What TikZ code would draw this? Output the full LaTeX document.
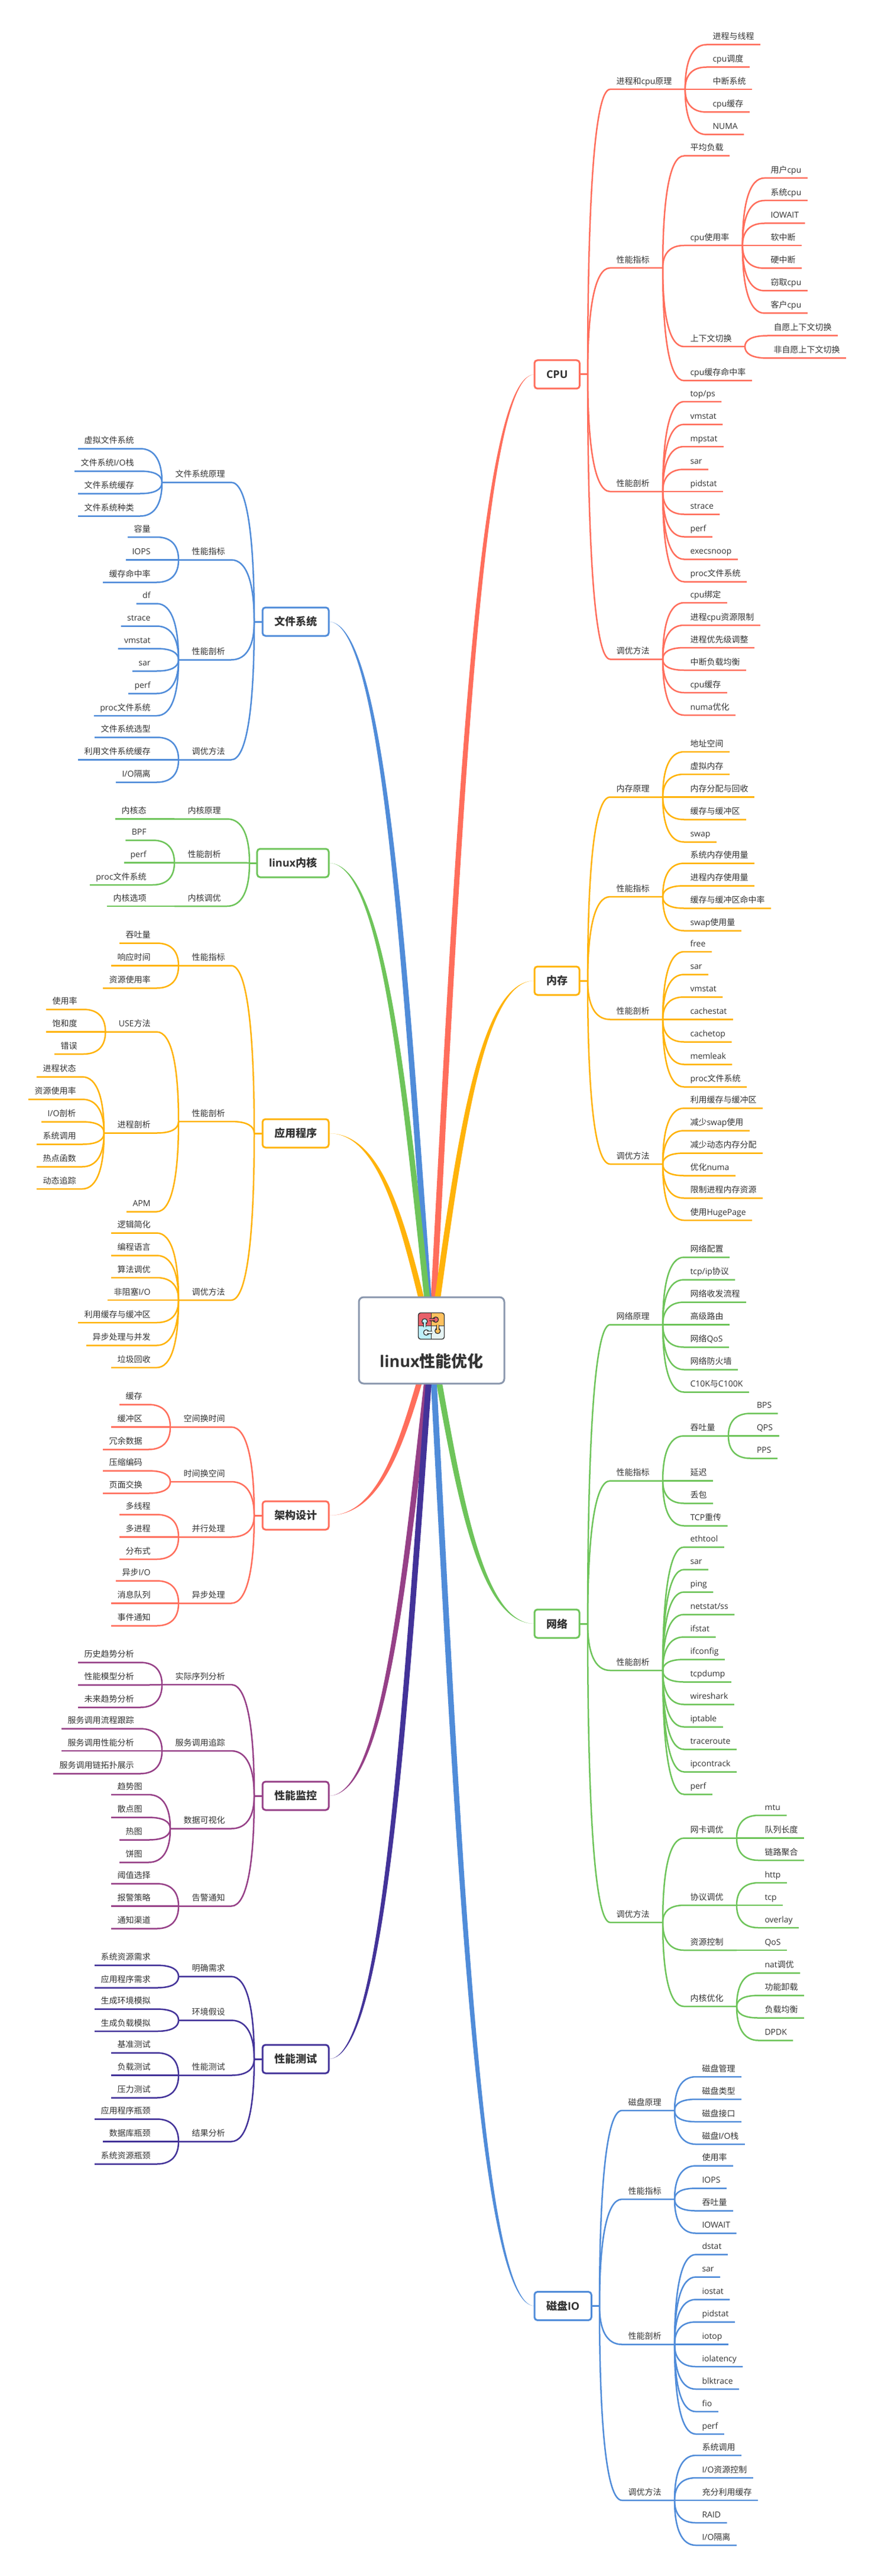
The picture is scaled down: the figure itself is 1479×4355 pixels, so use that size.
\documentclass[tikz,border=0pt]{standalone}
\usepackage{fontspec}
\usetikzlibrary{calc,backgrounds}
\setmainfont{Open Sans}
\newfontfamily\cjkfont{Noto Sans CJK SC}
\newXeTeXintercharclass\cjkclass
\count255="4E00
\loop
\XeTeXcharclass\count255=\cjkclass
\ifnum\count255<"9FFF \advance\count255 by 1 \repeat
\XeTeXinterchartoks 0 \cjkclass={\cjkfont}
\XeTeXinterchartoks 4095 \cjkclass={\cjkfont}
\XeTeXinterchartoks \cjkclass 0={\rmfamily}
\XeTeXinterchartokenstate=1
\definecolor{cpured}{HTML}{FF6E5C}
\definecolor{memorange}{HTML}{FFB30A}
\definecolor{netgreen}{HTML}{6EC45A}
\definecolor{diskblue}{HTML}{508CD9}
\definecolor{monpurple}{HTML}{964087}
\definecolor{testindigo}{HTML}{433399}
\definecolor{rootgrey}{HTML}{8A97AD}
\definecolor{textdark}{HTML}{333333}
\definecolor{piecered}{HTML}{E8606A}
\definecolor{pieceorange}{HTML}{FFC15E}
\definecolor{piececyan}{HTML}{BDF0FA}
\definecolor{piecepale}{HTML}{E6F4F4}
\tikzset{
  twig/.style={inner xsep=5.25pt,inner ysep=4.3pt,outer sep=0pt,text depth=0pt,text=textdark,font=\fontsize{7}{8}\selectfont},
  forkR/.style={execute at end node={\hspace{6pt}}},
  forkL/.style={execute at begin node={\hspace{6pt}}},
  topic/.style={rounded corners=2.5pt,line width=1.5pt,fill=white,outer sep=0pt,inner xsep=10pt,minimum height=24pt,text=textdark,font=\bfseries\fontsize{9}{10}\selectfont},
  twigcurve/.style={to path={let \p1=(\tikztostart),\p2=(\tikztotarget) in
    .. controls (\x1,{\y1+0.6*(\y2-\y1)}) and ({\x1+0.3*(\x2-\x1)},\y2) .. (\tikztotarget)}},
}
\newcommand{\twigR}[6][]{%
  \node[twig,anchor=south west,#1] (#3) at (#4,#5) {#6};
  \draw[branch] (#2) to[twigcurve] (#3.south west) -- (#3.south east);
}
\newcommand{\twigL}[6][]{%
  \node[twig,anchor=south east,#1] (#3) at (#4,#5) {#6};
  \draw[branch] (#2) to[twigcurve] (#3.south east) -- (#3.south west);
}
\newcommand{\trunk}[2]{%
  \begin{pgfonlayer}{background}
  \fill[#1] let \p1=(root.center),\p2=(#2) in
    ({\x1-2.5pt},\y1) .. controls ({\x1-2.5pt+0.25*(\x2-\x1)},{\y1+0.5*(\y2-\y1)}) and ({\x1-1.8pt+0.45*(\x2-\x1)},\y2) .. (\x2,\y2)
    .. controls ({\x1+1.8pt+0.45*(\x2-\x1)},\y2) and ({\x1+2.5pt+0.25*(\x2-\x1)},{\y1+0.5*(\y2-\y1)}) .. ({\x1+2.5pt},\y1) -- cycle;
  \end{pgfonlayer}
}
\begin{document}
\begin{tikzpicture}[x=0.5pt,y=-0.5pt,line join=round]
\useasboundingbox (0,0) rectangle (1479,4355);
\node[draw=rootgrey,fill=white,line width=1.5pt,rounded corners=4pt,outer sep=0pt,minimum width=123pt,minimum height=73pt] (root) at (730,2266) {};
\node[inner sep=0pt,text=textdark,font=\bfseries\fontsize{13.5}{15}\selectfont] (roottitle) at (730,2301) {linux性能优化};

\begin{scope}[line width=0.65pt,draw=textdark]
\begin{scope}
\clip[rounded corners=2pt] (707.5,2219.5) rectangle (751.5,2264);
\fill[piecered] (707,2219) rectangle (729.3,2241.7);
\fill[pieceorange] (729.3,2219) rectangle (752,2241.7);
\fill[piececyan] (707,2241.7) rectangle (729.3,2265);
\fill[piecepale] (729.3,2241.7) rectangle (752,2265);
\end{scope}
\draw (729.3,2219.5) -- (729.3,2264) (707.5,2241.7) -- (751.5,2241.7);
\filldraw[fill=piecered] (727,2229) rectangle (735,2233) (737,2231) circle (2.3pt);
\fill[piecered] (726,2229.6) rectangle (738,2232.4);
\filldraw[fill=piececyan] (716.3,2243) rectangle (720.3,2236) (718.3,2234) circle (2.3pt);
\fill[piececyan] (716.9,2244) rectangle (719.7,2233);
\filldraw[fill=pieceorange] (738.3,2240.5) rectangle (742.3,2248) (740.3,2250) circle (2.3pt);
\fill[pieceorange] (738.9,2240) rectangle (741.7,2251);
\filldraw[fill=piecepale] (730.5,2250.7) rectangle (723,2254.7) (721,2252.7) circle (2.3pt);
\fill[piecepale] (731,2251.3) rectangle (720,2254.1);
\draw[rounded corners=2pt,line width=0.7pt] (707.5,2219.5) rectangle (751.5,2264);
\end{scope}

\node[topic,draw=cpured,anchor=west] (cpu) at (904,633) {CPU};
\node[topic,draw=memorange,anchor=west] (mem) at (904,1658) {内存};
\node[topic,draw=netgreen,anchor=west] (net) at (904,2745) {网络};
\node[topic,draw=diskblue,anchor=west] (disk) at (904,3898.5) {磁盘IO};
\node[topic,draw=diskblue,anchor=east] (fs) at (556,1051) {文件系统};
\node[topic,draw=netgreen,anchor=east] (kern) at (556,1459) {linux内核};
\node[topic,draw=memorange,anchor=east] (app) at (556,1916) {应用程序};
\node[topic,draw=cpured,anchor=east] (arch) at (556,2562) {架构设计};
\node[topic,draw=monpurple,anchor=east] (mon) at (556,3036) {性能监控};
\node[topic,draw=testindigo,anchor=east] (test) at (556,3481) {性能测试};

\trunk{cpured}{cpu.west}
\trunk{memorange}{mem.west}
\trunk{netgreen}{net.west}
\trunk{diskblue}{disk.west}
\trunk{diskblue}{fs.east}
\trunk{netgreen}{kern.east}
\trunk{memorange}{app.east}
\trunk{cpured}{arch.east}
\trunk{monpurple}{mon.east}
\trunk{testindigo}{test.east}

\coordinate (cpuhub) at (994,633);
\coordinate (memhub) at (994,1658);
\coordinate (nethub) at (994,2745);
\coordinate (diskhub) at (1014,3898.5);
\coordinate (fshub) at (430,1051);
\coordinate (kernhub) at (422,1459);
\coordinate (apphub) at (430,1916);
\coordinate (archhub) at (430,2562);
\coordinate (monhub) at (430,3036);
\coordinate (testhub) at (430,3481);

\begin{scope}[branch/.style={draw=cpured,line width=1.25pt}]
\draw[branch,line width=1.5pt] (cpu.east) -- (cpuhub);
\twigR[forkR]{cpuhub}{cpua}{1032}{151}{进程和cpu原理}
\twigR{cpua.south east}{cpua1}{1195}{75.5}{进程与线程}
\twigR{cpua.south east}{cpua2}{1195}{113.5}{cpu调度}
\twigR{cpua.south east}{cpua3}{1195}{151}{中断系统}
\twigR{cpua.south east}{cpua4}{1195}{189.5}{cpu缓存}
\twigR{cpua.south east}{cpua5}{1195}{227.5}{NUMA}
\twigR[forkR]{cpuhub}{cpub}{1032}{453}{性能指标}
\twigR{cpub.south east}{cpub1}{1157}{263.5}{平均负载}
\twigR[forkR]{cpub.south east}{cpub2}{1157}{415}{cpu使用率}
\twigR{cpub2.south east}{cpub21}{1293}{301}{用户cpu}
\twigR{cpub2.south east}{cpub22}{1293}{339}{系统cpu}
\twigR{cpub2.south east}{cpub23}{1293}{377.5}{IOWAIT}
\twigR{cpub2.south east}{cpub24}{1293}{415}{软中断}
\twigR{cpub2.south east}{cpub25}{1293}{453.5}{硬中断}
\twigR{cpub2.south east}{cpub26}{1293}{491.5}{窃取cpu}
\twigR{cpub2.south east}{cpub27}{1293}{529.5}{客户cpu}
\twigR[forkR]{cpub.south east}{cpub3}{1157}{586}{上下文切换}
\twigR{cpub3.south east}{cpub31}{1298}{567.5}{自愿上下文切换}
\twigR{cpub3.south east}{cpub32}{1298}{605.5}{非自愿上下文切换}
\twigR{cpub.south east}{cpub4}{1157}{643.5}{cpu缓存命中率}
\twigR[forkR]{cpuhub}{cpuc}{1032}{831}{性能剖析}
\twigR{cpuc.south east}{cpuc1}{1157}{679}{top/ps}
\twigR{cpuc.south east}{cpuc2}{1157}{717.5}{vmstat}
\twigR{cpuc.south east}{cpuc3}{1157}{755}{mpstat}
\twigR{cpuc.south east}{cpuc4}{1157}{793.5}{sar}
\twigR{cpuc.south east}{cpuc5}{1157}{831}{pidstat}
\twigR{cpuc.south east}{cpuc6}{1157}{869.5}{strace}
\twigR{cpuc.south east}{cpuc7}{1157}{907.5}{perf}
\twigR{cpuc.south east}{cpuc8}{1157}{945.5}{execsnoop}
\twigR{cpuc.south east}{cpuc9}{1157}{983.5}{proc文件系统}
\twigR[forkR]{cpuhub}{cpud}{1032}{1114.5}{调优方法}
\twigR{cpud.south east}{cpud1}{1157}{1019}{cpu绑定}
\twigR{cpud.south east}{cpud2}{1157}{1057}{进程cpu资源限制}
\twigR{cpud.south east}{cpud3}{1157}{1095}{进程优先级调整}
\twigR{cpud.south east}{cpud4}{1157}{1133}{中断负载均衡}
\twigR{cpud.south east}{cpud5}{1157}{1171}{cpu缓存}
\twigR{cpud.south east}{cpud6}{1157}{1209}{numa优化}
\end{scope}

\begin{scope}[branch/.style={draw=memorange,line width=1.25pt}]
\draw[branch,line width=1.5pt] (mem.east) -- (memhub);
\twigR[forkR]{memhub}{mema}{1032}{1347.5}{内存原理}
\twigR{mema.south east}{mema1}{1157}{1271}{地址空间}
\twigR{mema.south east}{mema2}{1157}{1309}{虚拟内存}
\twigR{mema.south east}{mema3}{1157}{1347.5}{内存分配与回收}
\twigR{mema.south east}{mema4}{1157}{1385.5}{缓存与缓冲区}
\twigR{mema.south east}{mema5}{1157}{1423.5}{swap}
\twigR[forkR]{memhub}{memb}{1032}{1516}{性能指标}
\twigR{memb.south east}{memb1}{1157}{1459.5}{系统内存使用量}
\twigR{memb.south east}{memb2}{1157}{1497.5}{进程内存使用量}
\twigR{memb.south east}{memb3}{1157}{1535.5}{缓存与缓冲区命中率}
\twigR{memb.south east}{memb4}{1157}{1573.5}{swap使用量}
\twigR[forkR]{memhub}{memc}{1032}{1723.5}{性能剖析}
\twigR{memc.south east}{memc1}{1157}{1609}{free}
\twigR{memc.south east}{memc2}{1157}{1647.5}{sar}
\twigR{memc.south east}{memc3}{1157}{1685.5}{vmstat}
\twigR{memc.south east}{memc4}{1157}{1723.5}{cachestat}
\twigR{memc.south east}{memc5}{1157}{1761.5}{cachetop}
\twigR{memc.south east}{memc6}{1157}{1799.5}{memleak}
\twigR{memc.south east}{memc7}{1157}{1837.5}{proc文件系统}
\twigR[forkR]{memhub}{memd}{1032}{1968}{调优方法}
\twigR{memd.south east}{memd1}{1157}{1873.5}{利用缓存与缓冲区}
\twigR{memd.south east}{memd2}{1157}{1911.5}{减少swap使用}
\twigR{memd.south east}{memd3}{1157}{1949.5}{减少动态内存分配}
\twigR{memd.south east}{memd4}{1157}{1987.5}{优化numa}
\twigR{memd.south east}{memd5}{1157}{2025.5}{限制进程内存资源}
\twigR{memd.south east}{memd6}{1157}{2063}{使用HugePage}
\end{scope}

\begin{scope}[branch/.style={draw=netgreen,line width=1.25pt}]
\draw[branch,line width=1.5pt] (net.east) -- (nethub);
\twigR[forkR]{nethub}{neta}{1032}{2239.5}{网络原理}
\twigR{neta.south east}{neta1}{1157}{2125.5}{网络配置}
\twigR{neta.south east}{neta2}{1157}{2163.5}{tcp/ip协议}
\twigR{neta.south east}{neta3}{1157}{2201.5}{网络收发流程}
\twigR{neta.south east}{neta4}{1157}{2239.5}{高级路由}
\twigR{neta.south east}{neta5}{1157}{2277.5}{网络QoS}
\twigR{neta.south east}{neta6}{1157}{2315.5}{网络防火墙}
\twigR{neta.south east}{neta7}{1157}{2353.5}{C10K与C100K}
\twigR[forkR]{nethub}{netb}{1032}{2503.5}{性能指标}
\twigR[forkR]{netb.south east}{netb1}{1157}{2427.5}{吞吐量}
\twigR{netb1.south east}{netb11}{1269.5}{2389.5}{BPS}
\twigR{netb1.south east}{netb12}{1269.5}{2427.5}{QPS}
\twigR{netb1.south east}{netb13}{1269.5}{2465.5}{PPS}
\twigR{netb.south east}{netb2}{1157}{2503.5}{延迟}
\twigR{netb.south east}{netb3}{1157}{2541.5}{丢包}
\twigR{netb.south east}{netb4}{1157}{2579.5}{TCP重传}
\twigR[forkR]{nethub}{netc}{1032}{2824}{性能剖析}
\twigR{netc.south east}{netc1}{1157}{2615.5}{ethtool}
\twigR{netc.south east}{netc2}{1157}{2653.5}{sar}
\twigR{netc.south east}{netc3}{1157}{2691.5}{ping}
\twigR{netc.south east}{netc4}{1157}{2729.5}{netstat/ss}
\twigR{netc.south east}{netc5}{1157}{2767.5}{ifstat}
\twigR{netc.south east}{netc6}{1157}{2805.5}{ifconfig}
\twigR{netc.south east}{netc7}{1157}{2843.5}{tcpdump}
\twigR{netc.south east}{netc8}{1157}{2881.5}{wireshark}
\twigR{netc.south east}{netc9}{1157}{2919.5}{iptable}
\twigR{netc.south east}{netc10}{1157}{2957.5}{traceroute}
\twigR{netc.south east}{netc11}{1157}{2995.5}{ipcontrack}
\twigR{netc.south east}{netc12}{1157}{3033.5}{perf}
\twigR[forkR]{nethub}{netd}{1032}{3250}{调优方法}
\twigR[forkR]{netd.south east}{netd1}{1157}{3107.5}{网卡调优}
\twigR{netd1.south east}{netd11}{1283}{3069}{mtu}
\twigR{netd1.south east}{netd12}{1283}{3107.5}{队列长度}
\twigR{netd1.south east}{netd13}{1283}{3145}{链路聚合}
\twigR[forkR]{netd.south east}{netd2}{1157}{3221}{协议调优}
\twigR{netd2.south east}{netd21}{1283}{3183}{http}
\twigR{netd2.south east}{netd22}{1283}{3221}{tcp}
\twigR{netd2.south east}{netd23}{1283}{3259}{overlay}
\twigR[forkR]{netd.south east}{netd3}{1157}{3297}{资源控制}
\twigR{netd3.south east}{netd31}{1283}{3297}{QoS}
\twigR[forkR]{netd.south east}{netd4}{1157}{3392}{内核优化}
\twigR{netd4.south east}{netd41}{1283}{3335.5}{nat调优}
\twigR{netd4.south east}{netd42}{1283}{3373.5}{功能卸载}
\twigR{netd4.south east}{netd43}{1283}{3411.5}{负载均衡}
\twigR{netd4.south east}{netd44}{1283}{3449.5}{DPDK}
\end{scope}

\begin{scope}[branch/.style={draw=diskblue,line width=1.25pt}]
\draw[branch,line width=1.5pt] (disk.east) -- (diskhub);
\twigR[forkR]{diskhub}{diska}{1052}{3568}{磁盘原理}
\twigR{diska.south east}{diska1}{1177}{3511}{磁盘管理}
\twigR{diska.south east}{diska2}{1177}{3549}{磁盘类型}
\twigR{diska.south east}{diska3}{1177}{3587}{磁盘接口}
\twigR{diska.south east}{diska4}{1177}{3625}{磁盘I/O栈}
\twigR[forkR]{diskhub}{diskb}{1052}{3718}{性能指标}
\twigR{diskb.south east}{diskb1}{1177}{3661.5}{使用率}
\twigR{diskb.south east}{diskb2}{1177}{3699.5}{IOPS}
\twigR{diskb.south east}{diskb3}{1177}{3737.5}{吞吐量}
\twigR{diskb.south east}{diskb4}{1177}{3775.5}{IOWAIT}
\twigR[forkR]{diskhub}{diskc}{1052}{3963.5}{性能剖析}
\twigR{diskc.south east}{diskc1}{1177}{3811.5}{dstat}
\twigR{diskc.south east}{diskc2}{1177}{3849.5}{sar}
\twigR{diskc.south east}{diskc3}{1177}{3887.5}{iostat}
\twigR{diskc.south east}{diskc4}{1177}{3925.5}{pidstat}
\twigR{diskc.south east}{diskc5}{1177}{3963.5}{iotop}
\twigR{diskc.south east}{diskc6}{1177}{4001}{iolatency}
\twigR{diskc.south east}{diskc7}{1177}{4039}{blktrace}
\twigR{diskc.south east}{diskc8}{1177}{4077}{fio}
\twigR{diskc.south east}{diskc9}{1177}{4115}{perf}
\twigR[forkR]{diskhub}{diskd}{1052}{4227}{调优方法}
\twigR{diskd.south east}{diskd1}{1177}{4151}{系统调用}
\twigR{diskd.south east}{diskd2}{1177}{4189}{I/O资源控制}
\twigR{diskd.south east}{diskd3}{1177}{4227}{充分利用缓存}
\twigR{diskd.south east}{diskd4}{1177}{4265}{RAID}
\twigR{diskd.south east}{diskd5}{1177}{4303}{I/O隔离}
\end{scope}

\begin{scope}[branch/.style={draw=diskblue,line width=1.25pt}]
\draw[branch,line width=1.5pt] (fs.west) -- (fshub);
\twigL[forkL]{fshub}{fsa}{391}{815.5}{文件系统原理}
\twigL{fsa.south west}{fsa1}{237}{758.5}{虚拟文件系统}
\twigL{fsa.south west}{fsa2}{237}{796.5}{文件系统I/O栈}
\twigL{fsa.south west}{fsa3}{237}{834.5}{文件系统缓存}
\twigL{fsa.south west}{fsa4}{237}{872.5}{文件系统种类}
\twigL[forkL]{fshub}{fsb}{391}{946.5}{性能指标}
\twigL{fsb.south west}{fsb1}{265}{908}{容量}
\twigL{fsb.south west}{fsb2}{265}{946.5}{IOPS}
\twigL{fsb.south west}{fsb3}{265}{984.5}{缓存命中率}
\twigL[forkL]{fshub}{fsc}{391}{1115.5}{性能剖析}
\twigL{fsc.south west}{fsc1}{265}{1020.5}{df}
\twigL{fsc.south west}{fsc2}{265}{1058.5}{strace}
\twigL{fsc.south west}{fsc3}{265}{1096.5}{vmstat}
\twigL{fsc.south west}{fsc4}{265}{1134.5}{sar}
\twigL{fsc.south west}{fsc5}{265}{1172.5}{perf}
\twigL{fsc.south west}{fsc6}{265}{1210}{proc文件系统}
\twigL[forkL]{fshub}{fsd}{391}{1284.5}{调优方法}
\twigL{fsd.south west}{fsd1}{265}{1246.5}{文件系统选型}
\twigL{fsd.south west}{fsd2}{265}{1284.5}{利用文件系统缓存}
\twigL{fsd.south west}{fsd3}{265}{1322.5}{I/O隔离}
\end{scope}

\begin{scope}[branch/.style={draw=netgreen,line width=1.25pt}]
\draw[branch,line width=1.5pt] (kern.west) -- (kernhub);
\twigL[forkL]{kernhub}{kerna}{384}{1384.5}{内核原理}
\twigL{kerna.south west}{kerna1}{258}{1384.5}{内核态}
\twigL[forkL]{kernhub}{kernb}{384}{1458.5}{性能剖析}
\twigL{kernb.south west}{kernb1}{258}{1420.5}{BPF}
\twigL{kernb.south west}{kernb2}{258}{1458.5}{perf}
\twigL{kernb.south west}{kernb3}{258}{1496}{proc文件系统}
\twigL[forkL]{kernhub}{kernc}{384}{1532}{内核调优}
\twigL{kernc.south west}{kernc1}{258}{1532}{内核选项}
\end{scope}

\begin{scope}[branch/.style={draw=memorange,line width=1.25pt}]
\draw[branch,line width=1.5pt] (app.west) -- (apphub);
\twigL[forkL]{apphub}{appa}{391}{1632.5}{性能指标}
\twigL{appa.south west}{appa1}{265}{1594.5}{吞吐量}
\twigL{appa.south west}{appa2}{265}{1632.5}{响应时间}
\twigL{appa.south west}{appa3}{265}{1670.5}{资源使用率}
\twigL[forkL]{apphub}{appb}{391}{1896}{性能剖析}
\twigL[forkL]{appb.south west}{appb1}{265}{1744.5}{USE方法}
\twigL{appb1.south west}{appb11}{141}{1706.5}{使用率}
\twigL{appb1.south west}{appb12}{141}{1744.5}{饱和度}
\twigL{appb1.south west}{appb13}{141}{1782}{错误}
\twigL[forkL]{appb.south west}{appb2}{265}{1915.5}{进程剖析}
\twigL{appb2.south west}{appb21}{139}{1820.5}{进程状态}
\twigL{appb2.south west}{appb22}{139}{1858.5}{资源使用率}
\twigL{appb2.south west}{appb23}{139}{1896.5}{I/O剖析}
\twigL{appb2.south west}{appb24}{139}{1934.5}{系统调用}
\twigL{appb2.south west}{appb25}{139}{1972.5}{热点函数}
\twigL{appb2.south west}{appb26}{139}{2010}{动态追踪}
\twigL{appb.south west}{appb3}{265}{2048.5}{APM}
\twigL[forkL]{apphub}{appc}{391}{2198}{调优方法}
\twigL{appc.south west}{appc1}{265}{2084.5}{逻辑简化}
\twigL{appc.south west}{appc2}{265}{2122.5}{编程语言}
\twigL{appc.south west}{appc3}{265}{2160}{算法调优}
\twigL{appc.south west}{appc4}{265}{2198}{非阻塞I/O}
\twigL{appc.south west}{appc5}{265}{2236}{利用缓存与缓冲区}
\twigL{appc.south west}{appc6}{265}{2274.5}{异步处理与并发}
\twigL{appc.south west}{appc7}{265}{2312}{垃圾回收}
\end{scope}

\begin{scope}[branch/.style={draw=cpured,line width=1.25pt}]
\draw[branch,line width=1.5pt] (arch.west) -- (archhub);
\twigL[forkL]{archhub}{archa}{391}{2412.5}{空间换时间}
\twigL{archa.south west}{archa1}{251}{2374.5}{缓存}
\twigL{archa.south west}{archa2}{251}{2412.5}{缓冲区}
\twigL{archa.south west}{archa3}{251}{2450.5}{冗余数据}
\twigL[forkL]{archhub}{archb}{391}{2505}{时间换空间}
\twigL{archb.south west}{archb1}{251}{2486.5}{压缩编码}
\twigL{archb.south west}{archb2}{251}{2524.5}{页面交换}
\twigL[forkL]{archhub}{archc}{391}{2598.5}{并行处理}
\twigL{archc.south west}{archc1}{265}{2560.5}{多线程}
\twigL{archc.south west}{archc2}{265}{2598.5}{多进程}
\twigL{archc.south west}{archc3}{265}{2636}{分布式}
\twigL[forkL]{archhub}{archd}{391}{2710.5}{异步处理}
\twigL{archd.south west}{archd1}{265}{2672.5}{异步I/O}
\twigL{archd.south west}{archd2}{265}{2710.5}{消息队列}
\twigL{archd.south west}{archd3}{265}{2748.5}{事件通知}
\end{scope}

\begin{scope}[branch/.style={draw=monpurple,line width=1.25pt}]
\draw[branch,line width=1.5pt] (mon.west) -- (monhub);
\twigL[forkL]{monhub}{mona}{391}{2848}{实际序列分析}
\twigL{mona.south west}{mona1}{237}{2810.5}{历史趋势分析}
\twigL{mona.south west}{mona2}{237}{2848.5}{性能模型分析}
\twigL{mona.south west}{mona3}{237}{2886.5}{未来趋势分析}
\twigL[forkL]{monhub}{monb}{391}{2960}{服务调用追踪}
\twigL{monb.south west}{monb1}{237}{2922.5}{服务调用流程跟踪}
\twigL{monb.south west}{monb2}{237}{2960}{服务调用性能分析}
\twigL{monb.south west}{monb3}{237}{2998.5}{服务调用链拓扑展示}
\twigL[forkL]{monhub}{monc}{391}{3091.5}{数据可视化}
\twigL{monc.south west}{monc1}{251}{3034}{趋势图}
\twigL{monc.south west}{monc2}{251}{3072.5}{散点图}
\twigL{monc.south west}{monc3}{251}{3110.5}{热图}
\twigL{monc.south west}{monc4}{251}{3148.5}{饼图}
\twigL[forkL]{monhub}{mond}{391}{3222.5}{告警通知}
\twigL{mond.south west}{mond1}{265}{3184.5}{阈值选择}
\twigL{mond.south west}{mond2}{265}{3222.5}{报警策略}
\twigL{mond.south west}{mond3}{265}{3260.5}{通知渠道}
\end{scope}

\begin{scope}[branch/.style={draw=testindigo,line width=1.25pt}]
\draw[branch,line width=1.5pt] (test.west) -- (testhub);
\twigL[forkL]{testhub}{testa}{391}{3341.5}{明确需求}
\twigL{testa.south west}{testa1}{265}{3322.5}{系统资源需求}
\twigL{testa.south west}{testa2}{265}{3360.5}{应用程序需求}
\twigL[forkL]{testhub}{testb}{391}{3415.5}{环境假设}
\twigL{testb.south west}{testb1}{265}{3396.5}{生成环境模拟}
\twigL{testb.south west}{testb2}{265}{3434}{生成负载模拟}
\twigL[forkL]{testhub}{testc}{391}{3508.5}{性能测试}
\twigL{testc.south west}{testc1}{265}{3470.5}{基准测试}
\twigL{testc.south west}{testc2}{265}{3508.5}{负载测试}
\twigL{testc.south west}{testc3}{265}{3546.5}{压力测试}
\twigL[forkL]{testhub}{testd}{391}{3620.5}{结果分析}
\twigL{testd.south west}{testd1}{265}{3582.5}{应用程序瓶颈}
\twigL{testd.south west}{testd2}{265}{3620.5}{数据库瓶颈}
\twigL{testd.south west}{testd3}{265}{3658.5}{系统资源瓶颈}
\end{scope}
\end{tikzpicture}
\end{document}
